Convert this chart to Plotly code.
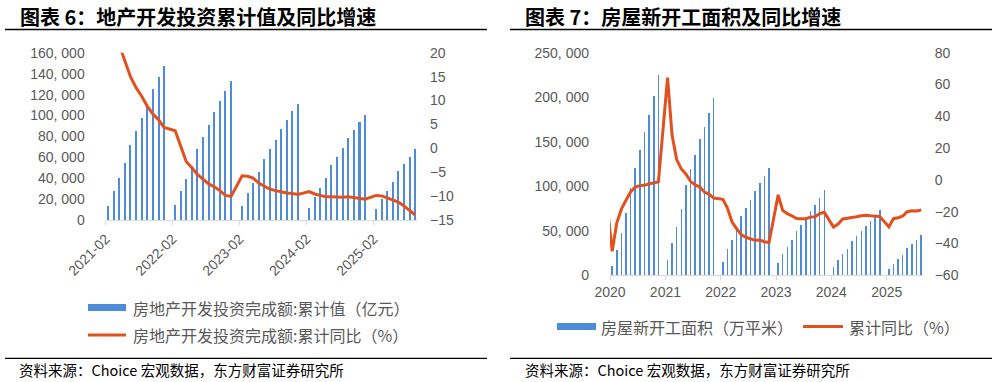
import plotly.graph_objects as go

# ---------------- data ----------------
inv_years = [2021, 2022, 2023, 2024, 2025]
inv_months = [f"{y}-{m:02d}" for y in inv_years for m in range(2, 13)][:-3]  # 2021-02 .. 2025-09
inv_value = [
    13986, 27576, 40240, 54318, 72179, 84895, 98060, 110122, 124934, 137086, 147602,
    14499, 27765, 39154, 52134, 68314, 79462, 90809, 103559, 113945, 123863, 132895,
    13669, 25974, 35514, 45701, 58550, 67717, 76900, 87269, 95922, 104045, 110913,
    11842, 22082, 30928, 40632, 52529, 60877, 69284, 78680, 86309, 93544, 100280,
    10720, 19904, 27730, 36234, 46658, 53580, 60309, 67706,
]
inv_yoy = [
    38.3, 25.6, 21.6, 18.3, 15.0, 12.7, 10.9, 8.8, 7.2, 6.0, 4.4,
    3.7, 0.7, -2.7, -4.0, -5.4, -6.4, -7.4, -8.0, -8.8, -9.8, -10.0,
    -5.7, -5.8, -6.2, -7.2, -7.9, -8.5, -8.8, -9.1, -9.3, -9.4, -9.6,
    -9.0, -9.5, -9.8, -10.1, -10.1, -10.2, -10.2, -10.1, -10.3, -10.4, -10.6,
    -9.8, -9.9, -10.3, -10.7, -11.2, -12.0, -12.9, -13.9,
]

ns_years = [2020, 2021, 2022, 2023, 2024, 2025]
ns_months = ["2019-12"] + [f"{y}-{m:02d}" for y in ns_years for m in range(2, 13)][:-3]  # .. 2025-09
ns_area = [
    227154,
    10370, 28203, 47768, 69533, 97536, 120776, 140917, 160560, 180361, 201378, 224433,
    17009, 36163, 54601, 75007, 101288, 118948, 135502, 152944, 166736, 182820, 198895,
    15115, 29638, 39739, 51628, 66423, 75483, 85062, 94767, 103722, 111632, 120587,
    13567, 24121, 31554, 39723, 49880, 56969, 63891, 72123, 79177, 86539, 95376,
    9429, 17402, 23510, 30090, 38023, 43731, 49406, 55759, 61227, 67209, 73893,
    6657, 12996, 17836, 23184, 30364, 35206, 39801, 45399,
]
ns_yoy = [
    8.5,
    -44.9, -27.2, -18.4, -12.8, -7.6, -4.5, -3.6, -3.4, -2.4, -2.0, -1.2,
    64.3, 28.2, 12.8, 6.9, 3.8, -0.9, -3.2, -4.5, -7.7, -9.1, -11.4,
    -12.2, -17.5, -26.3, -30.6, -34.4, -36.1, -37.2, -38.0, -37.8, -38.9, -39.4,
    -9.4, -19.2, -21.2, -22.6, -24.3, -24.5, -24.4, -23.4, -23.2, -21.2, -20.4,
    -29.7, -27.8, -24.6, -24.2, -23.7, -23.2, -22.5, -22.2, -22.6, -23.0, -23.0,
    -29.6, -24.4, -23.8, -22.8, -20.0, -19.4, -19.5, -18.9,
]

left_y_ticks = list(range(0, 160001, 20000))
left_y2_ticks = list(range(-15, 21, 5))
right_y_ticks = list(range(0, 250001, 50000))
right_y2_ticks = list(range(-60, 81, 20))

title_left = "图表 6：地产开发投资累计值及同比增速"
title_right = "图表 7：房屋新开工面积及同比增速"
legend_left = ["房地产开发投资完成额:累计值（亿元）", "房地产开发投资完成额:累计同比（%）"]
legend_right = ["房屋新开工面积（万平米）", "累计同比（%）"]
source_text = "资料来源：Choice 宏观数据，东方财富证券研究所"

# ---------------- styling ----------------
W, H = 997, 382
BLUE = "#4F8CD8"
RED = "#E2501E"
GRAY = "#595959"
AXIS = "#D9D9D9"
NUM_FONT = "Liberation Sans, Arial, sans-serif"
CJK_FONT = "Noto Sans CJK SC, sans-serif"
DAY_MS = 86400000


def px(x):
    return x / W


def py(y):
    return 1 - y / H


def fmt_thousands(v):
    return f"{v:,}".replace(",", ", ")


fig = go.Figure()

fig.add_trace(go.Bar(x=inv_months, y=inv_value, xperiod="M1", xperiodalignment="middle",
                     width=11 * DAY_MS, marker=dict(color=BLUE, line=dict(width=0)),
                     xaxis="x", yaxis="y", showlegend=False, hoverinfo="skip"))
fig.add_trace(go.Scatter(x=inv_months, y=inv_yoy, xperiod="M1", xperiodalignment="middle",
                         mode="lines", line=dict(color=RED, width=3),
                         xaxis="x", yaxis="y2", showlegend=False, hoverinfo="skip"))
fig.add_trace(go.Bar(x=ns_months, y=ns_area, xperiod="M1", xperiodalignment="middle",
                     width=10 * DAY_MS, marker=dict(color=BLUE, line=dict(width=0)),
                     xaxis="x3", yaxis="y3", showlegend=False, hoverinfo="skip"))
fig.add_trace(go.Scatter(x=ns_months, y=ns_yoy, xperiod="M1", xperiodalignment="middle",
                         mode="lines", line=dict(color=RED, width=3),
                         xaxis="x3", yaxis="y4", showlegend=False, hoverinfo="skip"))

tickfont = dict(family=NUM_FONT, size=14, color=GRAY)

L_X = [px(105.7), px(418)]
L_Y = [py(220.3), py(52.7)]
R_X = [px(610), px(922.7)]
R_Y = [py(275.3), py(52.7)]

fig.update_layout(
    template="none",
    width=W, height=H,
    margin=dict(l=0, r=0, t=0, b=0),
    paper_bgcolor="white", plot_bgcolor="white",
    bargap=0,
    xaxis=dict(domain=L_X, anchor="y", type="date", automargin=False,
               range=["2021-02-01", "2025-10-01"],
               tick0="2021-02-01", dtick="M12", tickformat="%Y-%m",
               tickangle=-45, tickfont=tickfont,
               showline=True, linecolor=AXIS, linewidth=1,
               ticks="outside", ticklen=4, tickcolor=AXIS,
               showgrid=False, zeroline=False),
    yaxis=dict(domain=L_Y, anchor="x", range=[0, 160000], automargin=False,
               tickvals=left_y_ticks, ticktext=[fmt_thousands(v) for v in left_y_ticks],
               tickfont=tickfont, showgrid=False, zeroline=False, showline=False,
               ticks="", ticklabelstandoff=20),
    yaxis2=dict(domain=L_Y, anchor="x", overlaying="y", side="right", range=[-15, 20],
                automargin=False,
                tickvals=left_y2_ticks, tickfont=tickfont, showgrid=False,
                zeroline=False, showline=False, ticks="", ticklabelstandoff=11),
    xaxis3=dict(domain=R_X, anchor="y3", type="date", automargin=False,
                range=["2020-02-01", "2025-09-26"],
                tick0="2020-02-01", dtick="M12", tickformat="%Y",
                tickangle=0, tickfont=tickfont,
                showline=True, linecolor=AXIS, linewidth=1,
                ticks="outside", ticklen=4, tickcolor=AXIS,
                showgrid=False, zeroline=False),
    yaxis3=dict(domain=R_Y, anchor="x3", range=[0, 250000], automargin=False,
                tickvals=right_y_ticks, ticktext=[fmt_thousands(v) for v in right_y_ticks],
                tickfont=tickfont, showgrid=False, zeroline=False, showline=False,
                ticks="", ticklabelstandoff=20),
    yaxis4=dict(domain=R_Y, anchor="x3", overlaying="y3", side="right", range=[-60, 80],
                automargin=False,
                tickvals=right_y2_ticks, tickfont=tickfont, showgrid=False,
                zeroline=False, showline=False, ticks="", ticklabelstandoff=11),
)

shapes = []
annotations = []

# titles + rules
for x0, x1, tx, title in [(5, 487, 18, title_left), (510, 992, 522.7, title_right)]:
    annotations.append(dict(x=px(tx), y=py(16.5), xref="paper", yref="paper",
                            xanchor="left", yanchor="middle", showarrow=False,
                            text=f"<b>{title}</b>",
                            font=dict(family=CJK_FONT, size=20, color="black")))
    shapes.append(dict(type="line", xref="paper", yref="paper",
                       x0=px(x0), x1=px(x1), y0=py(29.5), y1=py(29.5),
                       line=dict(color="black", width=1.3)))
    shapes.append(dict(type="line", xref="paper", yref="paper",
                       x0=px(x0), x1=px(x1), y0=py(358.3), y1=py(358.3),
                       line=dict(color="black", width=1.3)))

for tx, ty in [(17, 369.5), (522.7, 369)]:
    annotations.append(dict(x=px(tx), y=py(ty), xref="paper", yref="paper",
                            xanchor="left", yanchor="middle", showarrow=False,
                            text=source_text,
                            font=dict(family=CJK_FONT, size=14.5, color="black")))

legfont = dict(family=CJK_FONT, size=16, color=GRAY)


def legend_item(x_icon0, x_icon1, y, kind, label, x_text):
    if kind == "bar":
        shapes.append(dict(type="rect", xref="paper", yref="paper",
                           x0=px(x_icon0), x1=px(x_icon1), y0=py(y - 3.5), y1=py(y + 3.5),
                           fillcolor=BLUE, line=dict(width=0)))
    else:
        shapes.append(dict(type="line", xref="paper", yref="paper",
                           x0=px(x_icon0), x1=px(x_icon1), y0=py(y), y1=py(y),
                           line=dict(color=RED, width=3)))
    annotations.append(dict(x=px(x_text), y=py(y), xref="paper", yref="paper",
                            xanchor="left", yanchor="middle", showarrow=False,
                            text=label, font=legfont))


legend_item(88, 126, 307.5, "bar", legend_left[0], 131)
legend_item(88, 126, 335, "line", legend_left[1], 131)
legend_item(557, 596, 326.5, "bar", legend_right[0], 599)
legend_item(803, 843, 326.5, "line", legend_right[1], 847)

fig.update_layout(shapes=shapes, annotations=annotations)

fig.write_html(
    "out.html",
    config={"displayModeBar": False, "staticPlot": True},
    post_script="document.body.style.margin='0';document.body.style.padding='0';"
                "document.body.style.overflow='hidden';",
)
